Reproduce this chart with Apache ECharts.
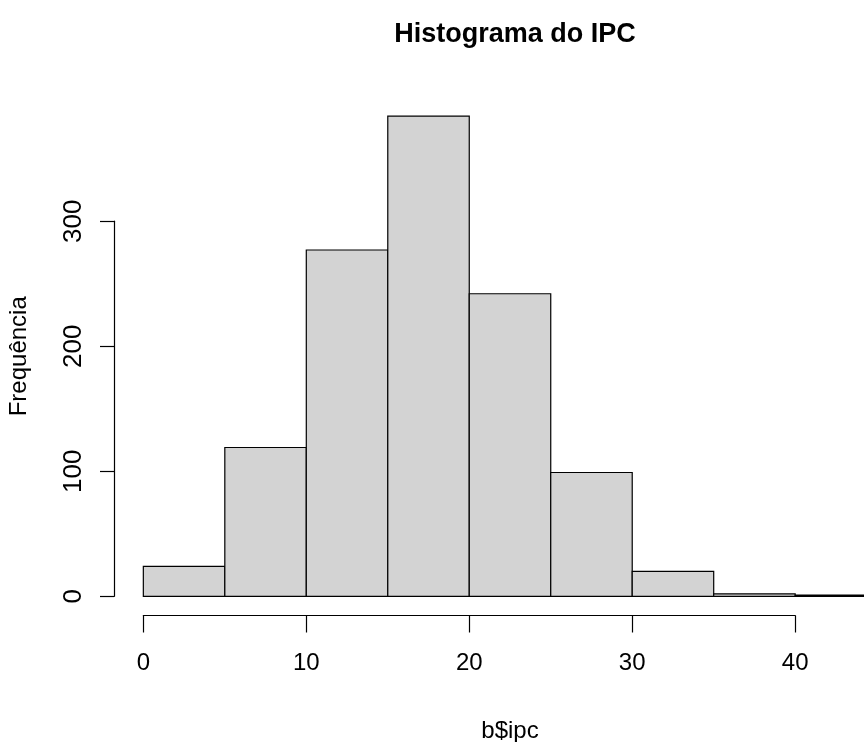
<!DOCTYPE html>
<html>
<head>
<meta charset="utf-8">
<script src="https://cdn.jsdelivr.net/npm/echarts@6/dist/echarts.min.js"></script>
<style>
html,body{margin:0;padding:0;background:#fff;}
#chart{width:864px;height:742px;}
</style>
</head>
<body>
<div id="chart"></div>
<script>
// Data
const binStarts = [0, 5, 10, 15, 20, 25, 30, 35, 40];
const binEnds   = [5, 10, 15, 20, 25, 30, 35, 40, 45];
const counts    = [24, 119, 277, 384, 242, 99, 20, 2, 1];
const xTicks = [0, 10, 20, 30, 40];
const yTicks = [0, 100, 200, 300];

const titleText = 'Histograma do IPC';
const xLabel = 'b$ipc';
const yLabel = 'Frequência';

// R-style plot region: data range extended 4%
const xMinData = Math.min(...binStarts), xMaxData = Math.max(...binEnds);
const xPad = (xMaxData - xMinData) * 0.04;
const yMaxData = Math.max(...counts);
const yPad = yMaxData * 0.04;
const xMin = xMinData - xPad, xMax = xMaxData + xPad;
const yMin = -yPad, yMax = yMaxData + yPad;

// plot region in pixels
const L = 114, T = 97, W = 792, H = 518.5;
const pxX = W / (xMax - xMin);
const pxY = H / (yMax - yMin);

const xt0 = xTicks[0], xt1 = xTicks[xTicks.length - 1];
const yt0 = yTicks[0], yt1 = yTicks[yTicks.length - 1];

const FONT = '"Liberation Sans", Arial, Helvetica, sans-serif';

const bins = binStarts.map((s, i) => [s, binEnds[i], counts[i]]);

const chart = echarts.init(document.getElementById('chart'), null, {renderer: 'canvas'});
chart.setOption({
  backgroundColor: '#ffffff',
  animation: false,
  title: {
    text: titleText,
    left: L + W / 2,
    top: 16,
    textAlign: 'center',
    textStyle: {fontFamily: FONT, fontWeight: 'bold', fontSize: 27, color: '#000'}
  },
  grid: [
    {left: L, top: T, width: W, height: H, outerBoundsMode: 'none', containLabel: false},
    {left: L + (xt0 - xMin) * pxX, width: (xt1 - xt0) * pxX, top: T + H - 10, height: 10, outerBoundsMode: 'none', containLabel: false},
    {left: L, width: 10, top: T + (yMax - yt1) * pxY, height: (yt1 - yt0) * pxY, outerBoundsMode: 'none', containLabel: false}
  ],
  xAxis: [
    {
      gridIndex: 0, type: 'value', min: xMin, max: xMax,
      axisLine: {show: false}, axisTick: {show: false}, axisLabel: {show: false}, splitLine: {show: false},
      name: xLabel, nameLocation: 'middle', nameGap: 104,
      nameTextStyle: {fontFamily: FONT, fontSize: 24, color: '#000'}
    },
    {
      gridIndex: 1, type: 'value', min: xt0, max: xt1, interval: 10,
      axisLine: {show: true, lineStyle: {color: '#000', width: 1.2}},
      axisTick: {show: true, inside: false, length: 17, lineStyle: {color: '#000', width: 1.2}},
      axisLabel: {show: true, margin: 36, fontFamily: FONT, fontSize: 24, color: '#000'},
      splitLine: {show: false}
    },
    {
      gridIndex: 2, type: 'value', min: 0, max: 1, show: false
    }
  ],
  yAxis: [
    {
      gridIndex: 0, type: 'value', min: yMin, max: yMax,
      axisLine: {show: false}, axisTick: {show: false}, axisLabel: {show: false}, splitLine: {show: false},
      name: yLabel, nameLocation: 'middle', nameGap: 83,
      nameTextStyle: {fontFamily: FONT, fontSize: 24, color: '#000'}
    },
    {
      gridIndex: 1, type: 'value', min: 0, max: 1, show: false
    },
    {
      gridIndex: 2, type: 'value', min: yt0, max: yt1, interval: 100,
      axisLine: {show: true, lineStyle: {color: '#000', width: 1.2}},
      axisTick: {show: true, inside: false, length: 14, lineStyle: {color: '#000', width: 1.2}},
      axisLabel: {show: true, rotate: 90, margin: 27, fontFamily: FONT, fontSize: 26, color: '#000'},
      splitLine: {show: false}
    }
  ],
  series: [{
    type: 'custom',
    xAxisIndex: 0, yAxisIndex: 0,
    clip: false,
    data: bins,
    encode: {x: [0, 1], y: 2},
    renderItem: function (params, api) {
      const p0 = api.coord([api.value(0), api.value(2)]);
      const p1 = api.coord([api.value(1), 0]);
      return {
        type: 'rect',
        shape: {x: p0[0], y: p0[1], width: p1[0] - p0[0], height: p1[1] - p0[1]},
        style: {fill: '#d3d3d3', stroke: '#000', lineWidth: 1.2}
      };
    }
  }]
});
</script>
</body>
</html>
